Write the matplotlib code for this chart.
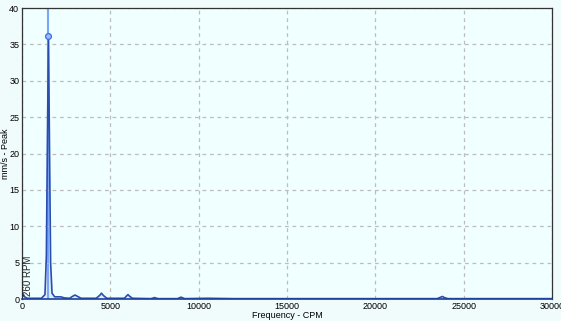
import numpy as np
import matplotlib.pyplot as plt

# ==========================================================
# SPECTRUM DATA (frequency in CPM, amplitude in mm/s peak)
# ==========================================================

freq_cpm = [0, 60, 150, 300, 700, 1100, 1300, 1380, 1440, 1500, 1560,
            1620, 1700, 1850, 2000, 2200, 2400, 2700, 2850, 3000, 3150,
            3350, 4200, 4400, 4500, 4600, 4800, 5800, 5930, 6000, 6080,
            6250, 7300, 7450, 7500, 7560, 7700, 8800, 8950, 9000, 9060,
            9200, 10500, 12000, 15000, 18000, 21000, 23500, 23700, 23800,
            23900, 24100, 27000, 30000]
amplitude = [0.2, 0.7, 0.3, 0.1, 0.1, 0.1, 0.6, 6.0, 22.0, 36.1, 20.0,
             5.0, 0.8, 0.3, 0.3, 0.3, 0.15, 0.1, 0.35, 0.55, 0.35,
             0.1, 0.1, 0.5, 0.8, 0.5, 0.1, 0.1, 0.45, 0.6, 0.4,
             0.1, 0.05, 0.15, 0.2, 0.15, 0.05, 0.05, 0.2, 0.25, 0.2,
             0.05, 0.1, 0.05, 0.05, 0.05, 0.05, 0.05, 0.25, 0.35,
             0.2, 0.05, 0.05, 0.05]

peak_cpm = 1500
peak_amp = 36.1
rpm_label = "260 RPM"

x_ticks = [0, 5000, 10000, 15000, 20000, 25000, 30000]
y_ticks = [0, 5, 10, 15, 20, 25, 30, 35, 40]

# ==========================================================
# PLOT
# ==========================================================

plt.rcParams["font.family"] = ["Liberation Sans", "DejaVu Sans"]

fig = plt.figure(figsize=(5.61, 3.21), dpi=100)
fig.patch.set_facecolor("#f0fbfc")
ax = fig.add_axes([0.0392, 0.0685, 0.9448, 0.9065])
ax.set_facecolor("#f0ffff")

ax.fill_between(freq_cpm, amplitude, color="#d4e2f8", alpha=0.6, linewidth=0)
ax.plot(freq_cpm, amplitude, color="#2a4db0", linewidth=1.2)

# cursor on the running-speed peak
ax.axvline(peak_cpm, color="#7aa6f7", linewidth=1.5, zorder=1)
ax.plot([peak_cpm], [peak_amp], marker="o", markersize=4.2,
        markerfacecolor="#9bbcf8", markeredgecolor="#3c6fe0",
        markeredgewidth=0.9, zorder=5)

ax.text(60, 0.4, rpm_label, rotation=90, fontsize=7,
        ha="left", va="bottom", color="#222222")

ax.set_xlim(0, 30000)
ax.set_ylim(0, 40)
ax.set_xticks(x_ticks)
ax.set_yticks(y_ticks)
ax.tick_params(labelsize=6.5, length=0, pad=2)
ax.grid(True, color="#bdbdbd", linestyle=(0, (3, 3)), linewidth=0.9)

for side in ["left", "top", "right"]:
    ax.spines[side].set_color("#333333")
    ax.spines[side].set_linewidth(0.9)
ax.spines["bottom"].set_color("#1f3f9c")
ax.spines["bottom"].set_linewidth(1.2)

ax.set_xlabel("Frequency - CPM", fontsize=6.5, labelpad=0)
ax.set_ylabel("mm/s - Peak", fontsize=6.5)
ax.yaxis.set_label_coords(-0.022, 0.5)

fig.savefig("out.png", dpi=100, facecolor=fig.get_facecolor())
